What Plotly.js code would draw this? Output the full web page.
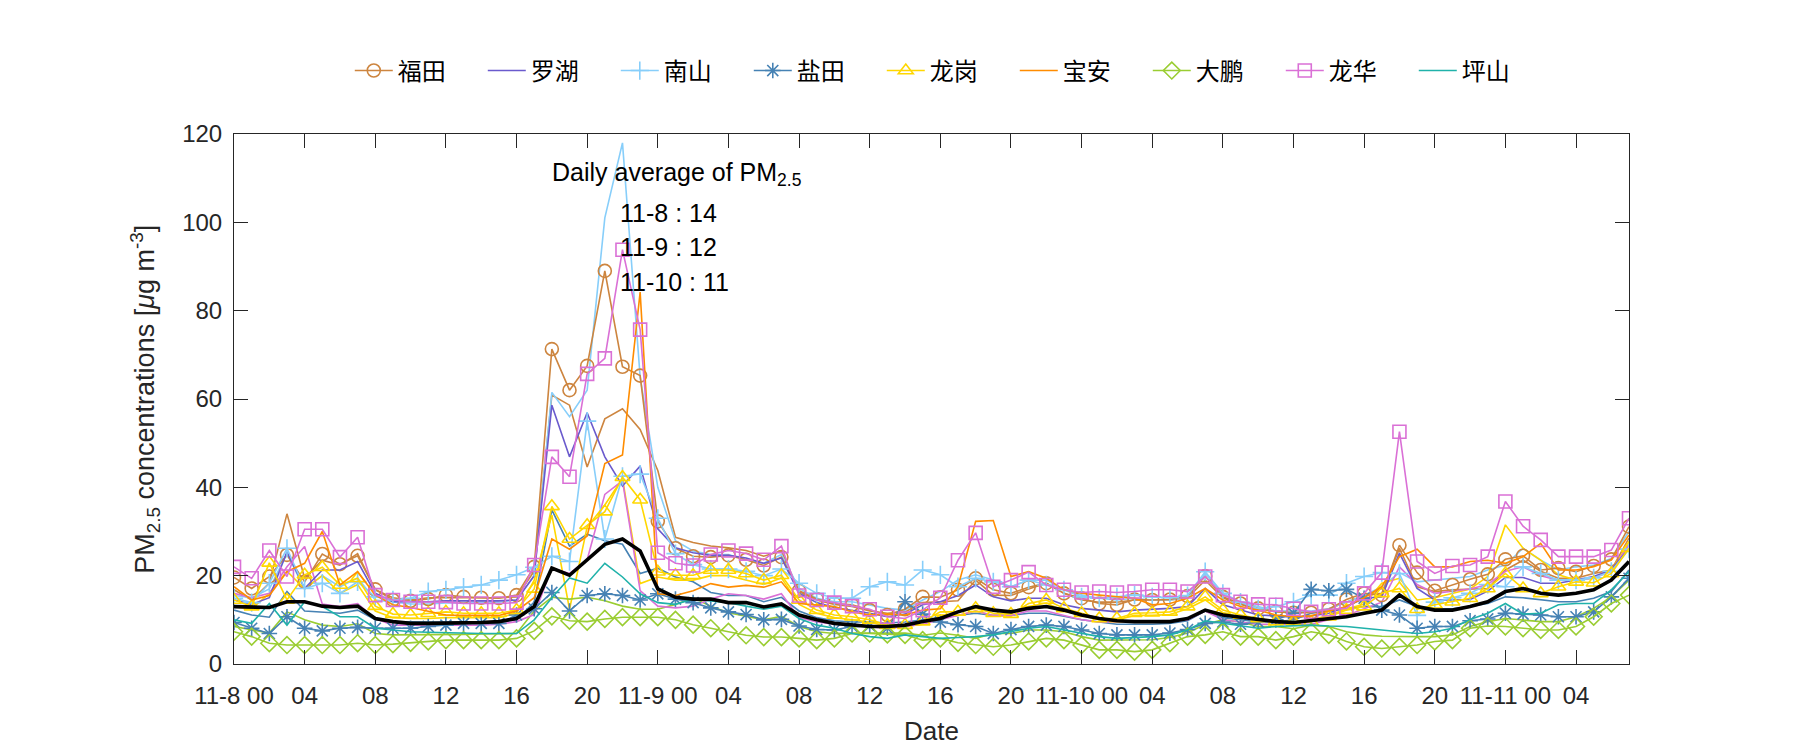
<!DOCTYPE html>
<html>
<head>
<meta charset="utf-8">
<script src="https://cdn.plot.ly/plotly-3.0.1.min.js"></script>
<style>
  html, body { margin: 0; padding: 0; background: #ffffff; }
  #chart { width: 1800px; height: 750px; }
</style>
</head>
<body>
<div id="chart"></div>
<script>
// ---------------- DATA (hourly PM2.5, 11-8 00 .. 11-11 07) ----------------
const tickVals = [0, 4, 8, 12, 16, 20, 24, 28, 32, 36, 40, 44, 48, 52, 56, 60, 64, 68, 72, 76];
const tickLabels = ['11-8 00', '04', '08', '12', '16', '20', '11-9 00', '04', '08', '12', '16', '20',
                    '11-10 00', '04', '08', '12', '16', '20', '11-11 00', '04'];

const futian = [19.6,17.1,19.8,24.7,18.6,24.9,22.6,24.5,16.9,14.5,
  14.3,14.7,15.6,15.2,15.0,14.9,15.6,22.0,71.3,62.0,
  67.5,89.0,67.3,65.3,32.3,26.2,24.4,24.2,24.6,23.6,
  22.3,24.2,16.6,14.7,13.7,13.4,12.2,11.1,12.4,15.2,
  15.1,16.8,19.4,16.8,16.0,17.4,18.3,16.0,14.9,13.7,
  13.4,14.6,14.5,14.6,15.4,19.9,15.2,13.7,12.6,11.8,
  11.6,11.6,12.4,14.6,16.0,15.6,26.9,20.7,16.6,17.9,
  19.2,20.3,23.7,24.5,21.3,21.7,20.9,22.2,23.7,31.1];

const luohu = [14.5,13.5,15.0,25.4,17.1,21.3,21.3,23.2,16.0,14.1,
  14.1,14.1,14.3,14.3,14.3,14.3,14.5,20.0,58.6,46.9,
  56.9,46.9,40.3,44.8,30.6,26.3,25.2,24.6,24.6,24.0,
  22.8,24.0,16.0,13.9,12.8,12.2,11.5,10.7,11.3,13.4,
  14.1,15.5,17.9,15.2,14.3,14.9,14.9,13.4,12.6,12.2,
  11.8,12.2,12.4,12.6,13.0,17.1,13.4,12.2,11.1,10.9,
  10.6,10.9,11.5,13.0,14.9,15.2,25.1,17.1,14.5,14.5,
  14.6,16.5,19.6,19.6,18.3,18.3,19.0,19.8,21.3,26.2];

const nanshan = [14.9,13.9,18.3,26.2,17.1,18.3,16.0,18.6,15.2,14.5,
  14.9,16.4,16.8,17.4,17.9,19.0,20.2,21.9,24.4,23.2,
  55.0,28.3,42.5,43.0,33.0,25.0,22.5,21.5,21.5,21.0,
  20.0,21.5,18.3,16.0,14.9,14.9,17.5,18.6,17.9,21.3,
  20.2,17.5,19.4,18.6,17.5,19.0,17.9,16.8,15.2,14.9,
  15.2,15.6,15.2,15.0,15.5,20.9,16.0,14.0,12.5,13.0,
  14.1,15.6,15.6,18.3,19.8,20.7,20.5,11.0,14.0,15.0,
  16.0,18.0,17.5,22.0,20.5,19.0,19.0,19.5,21.0,26.0];

const yantian = [9.4,8.1,6.9,10.7,8.1,7.5,8.1,8.3,8.1,8.1,
  8.1,8.5,8.8,9.2,9.2,9.2,11.1,12.5,16.2,12.0,
  15.5,15.9,15.5,14.5,15.9,14.7,13.9,12.7,11.8,11.2,
  10.0,10.1,8.6,7.8,7.7,8.5,8.6,8.1,14.1,11.3,
  9.5,8.9,8.5,6.9,7.8,8.5,8.8,8.5,7.7,6.9,
  6.6,6.6,6.6,7.0,7.8,9.2,9.5,9.0,9.5,10.0,
  11.5,16.9,16.6,16.9,14.9,12.2,11.1,8.1,8.5,8.5,
  9.8,10.2,11.5,11.3,11.1,10.7,10.7,11.8,15.2,19.4];

const longgang = [14.5,13.0,22.9,14.5,20.2,21.9,17.9,19.4,13.1,11.3,
  11.1,11.5,11.8,11.5,11.5,11.5,12.2,17.0,35.7,28.3,
  31.4,34.5,42.3,37.2,20.9,20.1,20.1,21.3,21.3,20.5,
  19.0,20.1,14.5,12.2,11.1,10.7,10.0,8.8,8.8,9.6,
  11.8,11.8,12.6,11.5,11.3,13.7,14.5,12.6,11.5,10.3,
  10.3,11.5,11.6,11.8,13.0,15.2,12.2,11.1,10.3,9.6,
  9.6,9.5,10.7,12.2,13.0,16.0,17.1,12.4,13.4,14.1,
  14.9,17.1,20.5,17.1,16.0,17.5,18.6,18.4,20.5,26.2];

const baoan = [17.5,14.5,15.5,20.9,22.8,30.0,17.9,20.9,15.6,13.4,
  12.8,12.0,11.1,11.0,11.0,11.0,12.0,15.0,28.3,26.0,
  29.0,45.4,47.3,84.2,15.9,15.5,16.6,18.2,17.4,17.8,
  17.4,18.6,13.7,13.4,13.0,11.8,11.1,11.3,11.1,12.2,
  12.5,17.5,32.3,32.5,19.8,20.9,19.4,16.8,16.0,15.6,
  15.2,14.9,13.4,13.7,14.9,17.1,14.5,13.0,12.2,11.1,
  10.7,10.9,12.0,13.0,15.0,17.5,24.3,26.0,22.0,22.0,
  23.2,23.5,22.8,24.3,27.3,21.3,21.3,22.0,23.5,29.2];

const dapeng = [7.3,6.2,4.7,4.3,4.3,4.3,4.3,4.7,4.3,4.5,
  4.8,5.1,5.4,5.4,5.4,5.4,5.8,7.5,10.8,9.8,
  9.6,10.2,10.6,10.6,10.6,10.0,8.9,8.1,7.3,6.5,
  6.1,6.1,5.8,5.4,5.8,6.9,6.9,6.7,6.6,5.4,
  5.8,4.8,4.3,3.9,4.3,5.1,5.8,5.4,4.3,3.2,
  3.2,2.8,3.2,4.7,6.2,6.6,7.3,6.2,6.2,5.4,
  6.2,7.3,6.6,5.1,3.9,3.5,3.9,4.3,5.1,5.4,
  8.1,8.6,8.5,8.1,7.7,7.7,8.5,10.7,13.7,15.6];

const longhua = [22.0,19.4,25.7,19.8,30.5,30.5,24.2,28.7,15.6,14.5,
  14.1,14.1,14.0,13.7,13.7,13.7,13.9,22.4,46.9,42.4,
  65.7,69.2,93.8,75.7,25.2,22.8,22.3,24.8,25.7,25.0,
  23.6,26.7,15.5,14.5,13.9,13.1,12.4,10.7,10.3,12.2,
  15.0,23.5,29.7,17.5,19.0,20.8,17.9,16.8,16.2,16.4,
  16.2,16.4,16.8,16.8,16.4,19.8,15.6,14.1,13.5,13.4,
  12.5,11.8,12.4,12.6,16.0,20.7,52.6,23.2,20.5,22.2,
  22.4,24.3,36.8,31.2,28.1,24.3,24.3,24.3,25.8,33.0];

const pingshan = [10.0,9.2,13.7,8.8,14.1,13.0,10.7,10.7,8.1,7.7,
  7.3,7.2,7.1,6.9,6.9,6.9,6.9,10.0,15.0,19.5,
  18.3,22.8,19.7,15.9,13.9,13.5,14.7,14.3,13.9,13.1,
  12.4,13.1,10.3,8.8,8.1,6.9,6.2,5.8,6.6,6.2,
  5.8,6.0,6.2,6.6,7.3,8.1,8.5,7.7,6.9,6.2,
  5.8,6.0,6.2,6.6,7.7,9.8,9.2,8.6,8.1,8.5,
  8.6,8.8,8.6,8.5,8.1,7.7,7.3,6.9,7.3,8.1,
  10.1,11.5,13.7,11.3,11.5,13.4,13.7,13.7,16.8,20.9];

// second stations (unlabelled lines, same colours, no markers)
const futian2 = [16.8,14.5,18.3,34.0,19.4,23.5,22.4,25.0,16.8,15.0,
  14.5,15.0,15.0,15.0,15.0,15.0,15.2,21.0,60.9,58.6,
  44.6,55.5,57.8,53.1,43.8,28.7,27.5,26.7,26.3,25.7,
  24.4,25.6,16.4,14.5,13.5,13.0,12.0,11.5,11.8,13.9,
  14.1,14.3,19.0,15.6,15.5,17.0,18.3,16.0,14.5,14.0,
  14.0,14.5,14.5,14.5,15.0,19.0,15.0,13.5,12.5,12.0,
  11.8,11.8,12.5,14.0,15.5,16.0,26.2,17.5,16.4,16.8,
  16.9,17.1,21.3,23.5,21.0,19.4,19.4,20.5,21.3,28.5];

const nanshan2 = [15.5,15.0,17.0,25.0,17.0,20.0,17.5,19.5,14.5,14.0,
  13.6,13.6,13.8,13.8,14.0,14.0,14.5,20.0,61.5,56.0,
  62.0,101.0,118.0,65.0,40.0,27.9,25.6,24.8,24.8,23.6,
  22.8,24.8,17.1,14.9,14.1,14.1,13.4,12.6,12.2,14.5,
  16.4,19.0,20.2,19.0,17.5,19.0,19.0,16.8,15.6,14.9,
  14.5,14.9,14.5,14.5,15.0,20.5,16.0,14.0,13.0,12.0,
  12.0,12.0,12.5,14.0,15.5,17.5,20.7,18.6,19.0,19.4,
  19.8,21.3,22.4,26.2,23.5,21.3,22.0,22.4,23.9,30.0];

const yantian2 = [12.2,11.1,10.6,16.4,12.0,11.8,11.5,12.2,10.0,9.6,
  9.5,9.5,9.5,9.5,9.5,9.5,10.0,14.0,34.9,26.7,
  29.4,27.9,27.1,20.5,21.7,19.7,18.6,16.2,15.5,15.5,
  14.1,15.1,12.0,10.5,9.8,9.5,9.5,9.3,9.5,10.0,
  10.5,11.0,11.5,11.0,11.0,11.5,11.5,10.8,10.0,9.5,
  9.0,9.0,9.0,9.2,9.8,12.0,10.5,10.0,9.5,9.5,
  10.0,11.5,12.0,12.5,13.0,13.0,14.5,13.0,12.5,12.5,
  13.0,13.7,15.2,15.0,14.5,14.1,14.1,14.9,16.4,21.3];

const longgang2 = [13.0,12.5,16.0,21.0,17.0,20.0,16.0,18.0,12.0,10.5,
  10.3,10.3,10.5,10.5,10.5,10.5,11.5,19.0,33.7,12.4,
  31.0,36.0,42.0,18.2,19.7,19.0,19.0,20.0,20.0,19.0,
  18.0,19.5,13.5,11.5,10.5,10.0,9.5,8.5,8.5,9.0,
  11.0,11.0,12.0,11.0,10.8,13.0,13.8,12.0,11.0,10.0,
  10.0,11.0,11.0,11.2,12.5,14.5,11.6,10.6,10.0,9.3,
  9.3,10.0,11.0,12.5,13.5,18.3,19.4,14.5,15.0,16.0,
  17.0,19.8,31.5,26.2,23.5,20.2,19.0,19.4,21.3,27.3];

const dapeng2 = [8.5,7.7,7.0,11.8,10.0,8.8,8.5,9.1,6.9,6.6,
  6.6,6.6,6.7,6.7,6.8,6.8,6.9,12.0,15.1,14.7,
  15.1,14.3,13.1,12.4,12.4,13.5,15.0,13.1,11.6,10.8,
  10.0,10.8,8.5,7.3,6.9,7.0,7.0,7.0,7.0,6.5,
  7.0,6.5,5.8,6.9,6.9,7.7,7.7,7.3,6.2,5.4,
  5.4,5.4,5.5,6.0,7.0,9.0,10.0,9.5,8.5,8.5,
  8.0,8.8,8.5,7.3,6.6,6.3,6.2,6.2,6.2,6.6,
  8.5,9.6,10.3,10.0,9.6,9.6,10.7,12.6,15.2,19.0];

const longhua2 = [16.0,15.0,16.0,22.0,26.6,13.6,13.0,13.7,10.3,8.8,
  8.8,8.8,8.8,8.8,8.8,9.0,9.6,11.2,21.7,20.5,
  23.6,38.4,41.5,16.6,13.1,12.7,13.1,14.7,15.9,15.5,
  14.7,15.9,10.5,9.5,9.0,8.8,8.5,8.0,8.5,9.0,
  10.0,11.0,12.0,11.0,11.0,12.0,12.0,11.0,10.0,9.5,
  9.5,9.5,9.5,9.5,10.0,12.0,10.0,9.5,9.0,9.0,
  9.0,9.0,10.0,11.0,12.5,14.0,22.0,18.0,16.0,16.5,
  17.0,18.0,21.0,22.0,20.0,19.0,19.0,19.5,21.0,27.0];

const cityAverage = [13.0,12.8,12.8,14.1,14.1,13.1,12.8,13.1,10.3,9.6,
  9.2,9.2,9.2,9.4,9.4,9.6,10.3,13.0,21.7,20.1,
  23.6,27.1,28.3,25.6,17.0,15.1,14.7,14.7,13.9,13.9,
  12.9,13.6,11.1,10.0,9.2,8.8,8.5,8.5,8.8,9.6,
  10.3,11.8,13.0,12.2,11.8,12.6,13.0,12.2,11.1,10.3,
  9.8,9.6,9.6,9.6,10.3,12.2,11.1,10.6,10.1,9.6,
  9.4,9.8,10.3,10.7,11.5,12.2,15.6,13.0,12.2,12.2,
  13.0,14.1,16.4,17.1,16.0,15.6,16.0,16.8,19.0,23.2];

const dailyAvgDays = ['11-8', '11-9', '11-10'];
const dailyAvgVals = [14, 12, 11];

// hour index for each sample
const hours = futian.map((_, i) => i);

// ---------------- STYLE ----------------
const C = {
  futian: '#CD853F', luohu: '#6A5ACD', nanshan: '#87CEFA', yantian: '#4682B4',
  longgang: '#FFD700', baoan: '#FF8C00', dapeng: '#9ACD32', longhua: '#DA70D6',
  pingshan: '#20B2AA'
};
const LW = 1.6;

function plain(y, color) {
  return { x: hours, y: y, type: 'scatter', mode: 'lines', showlegend: false,
           hoverinfo: 'skip', line: { color: color, width: LW } };
}
function named(name, y, color, symbol) {
  const t = { x: hours, y: y, type: 'scatter', name: name,
              mode: symbol ? 'lines+markers' : 'lines',
              line: { color: color, width: LW } };
  if (symbol) t.marker = { symbol: symbol, size: 13, color: color,
                           line: { color: color, width: 1.6 } };
  return t;
}

const traces = [
  plain(futian2, C.futian),
  plain(nanshan2, C.nanshan),
  plain(yantian2, C.yantian),
  plain(longgang2, C.longgang),
  plain(dapeng2, C.dapeng),
  plain(longhua2, C.longhua),
  named('福田', futian, C.futian, 'circle-open'),
  named('罗湖', luohu, C.luohu, null),
  named('南山', nanshan, C.nanshan, 'cross-thin-open'),
  named('盐田', yantian, C.yantian, 'asterisk-open'),
  named('龙岗', longgang, C.longgang, 'triangle-up-open'),
  named('宝安', baoan, C.baoan, null),
  named('大鹏', dapeng, C.dapeng, 'diamond-open'),
  named('龙华', longhua, C.longhua, 'square-open'),
  named('坪山', pingshan, C.pingshan, null),
  { x: hours, y: cityAverage, type: 'scatter', mode: 'lines', showlegend: false,
    line: { color: '#000000', width: 3.6 } }
];

const axisColor = '#262626';
const fontFam = 'Liberation Sans, Arial, sans-serif';

const annotations = [
  { xref: 'x', yref: 'y', x: 17.9, y: 111, xanchor: 'left', yanchor: 'middle', showarrow: false,
    text: 'Daily average of PM<sub>2.5</sub>', font: { size: 25, color: '#000', family: fontFam } },
  { xref: 'paper', yref: 'paper', x: -0.0640, y: 0.5, xanchor: 'center', yanchor: 'middle',
    showarrow: false, textangle: -90,
    text: 'PM<sub>2.5</sub> concentrations [<i>μ</i>g m<sup>-3</sup>]',
    font: { size: 27, color: axisColor, family: fontFam } },
  { xref: 'paper', yref: 'paper', x: 0.5, y: -0.126, xanchor: 'center', yanchor: 'middle',
    showarrow: false, text: 'Date', font: { size: 26, color: axisColor, family: fontFam } }
];
const dayY = [102.2, 94.4, 86.4];
dailyAvgDays.forEach((d, i) => {
  annotations.push({ xref: 'x', yref: 'y', x: 21.75, y: dayY[i], xanchor: 'left', yanchor: 'middle',
    showarrow: false, text: d + ' : ' + dailyAvgVals[i],
    font: { size: 25, color: '#000', family: fontFam } });
});

const layout = {
  width: 1800, height: 750,
  paper_bgcolor: '#ffffff', plot_bgcolor: '#ffffff',
  margin: { l: 234, r: 171, t: 134, b: 86 },
  showlegend: true,
  font: { family: fontFam, size: 24, color: axisColor },
  xaxis: {
    range: [0, 79], tickmode: 'array', tickvals: tickVals, ticktext: tickLabels,
    ticks: 'inside', ticklen: 14, tickwidth: 1, tickcolor: axisColor,
    showline: true, linecolor: axisColor, linewidth: 1, mirror: 'ticks',
    showgrid: false, zeroline: false, ticklabelstandoff: 10,
    tickfont: { size: 24, color: axisColor, family: fontFam }
  },
  yaxis: {
    range: [0, 120], tickmode: 'array', tickvals: [0, 20, 40, 60, 80, 100, 120],
    ticks: 'inside', ticklen: 14, tickwidth: 1, tickcolor: axisColor,
    showline: true, linecolor: axisColor, linewidth: 1, mirror: 'ticks',
    showgrid: false, zeroline: false, ticklabelstandoff: 6,
    tickfont: { size: 24, color: axisColor, family: fontFam }
  },
  legend: {
    orientation: 'h', x: 0.083, xanchor: 'left', y: 1.119, yanchor: 'middle',
    entrywidth: 80, entrywidthmode: 'pixels', itemwidth: 38,
    bgcolor: 'rgba(0,0,0,0)', borderwidth: 0,
    font: { size: 24, color: '#000', family: 'Noto Sans CJK SC, sans-serif' }
  },
  annotations: annotations
};

Plotly.newPlot('chart', traces, layout, { staticPlot: true, displayModeBar: false });
</script>
</body>
</html>
